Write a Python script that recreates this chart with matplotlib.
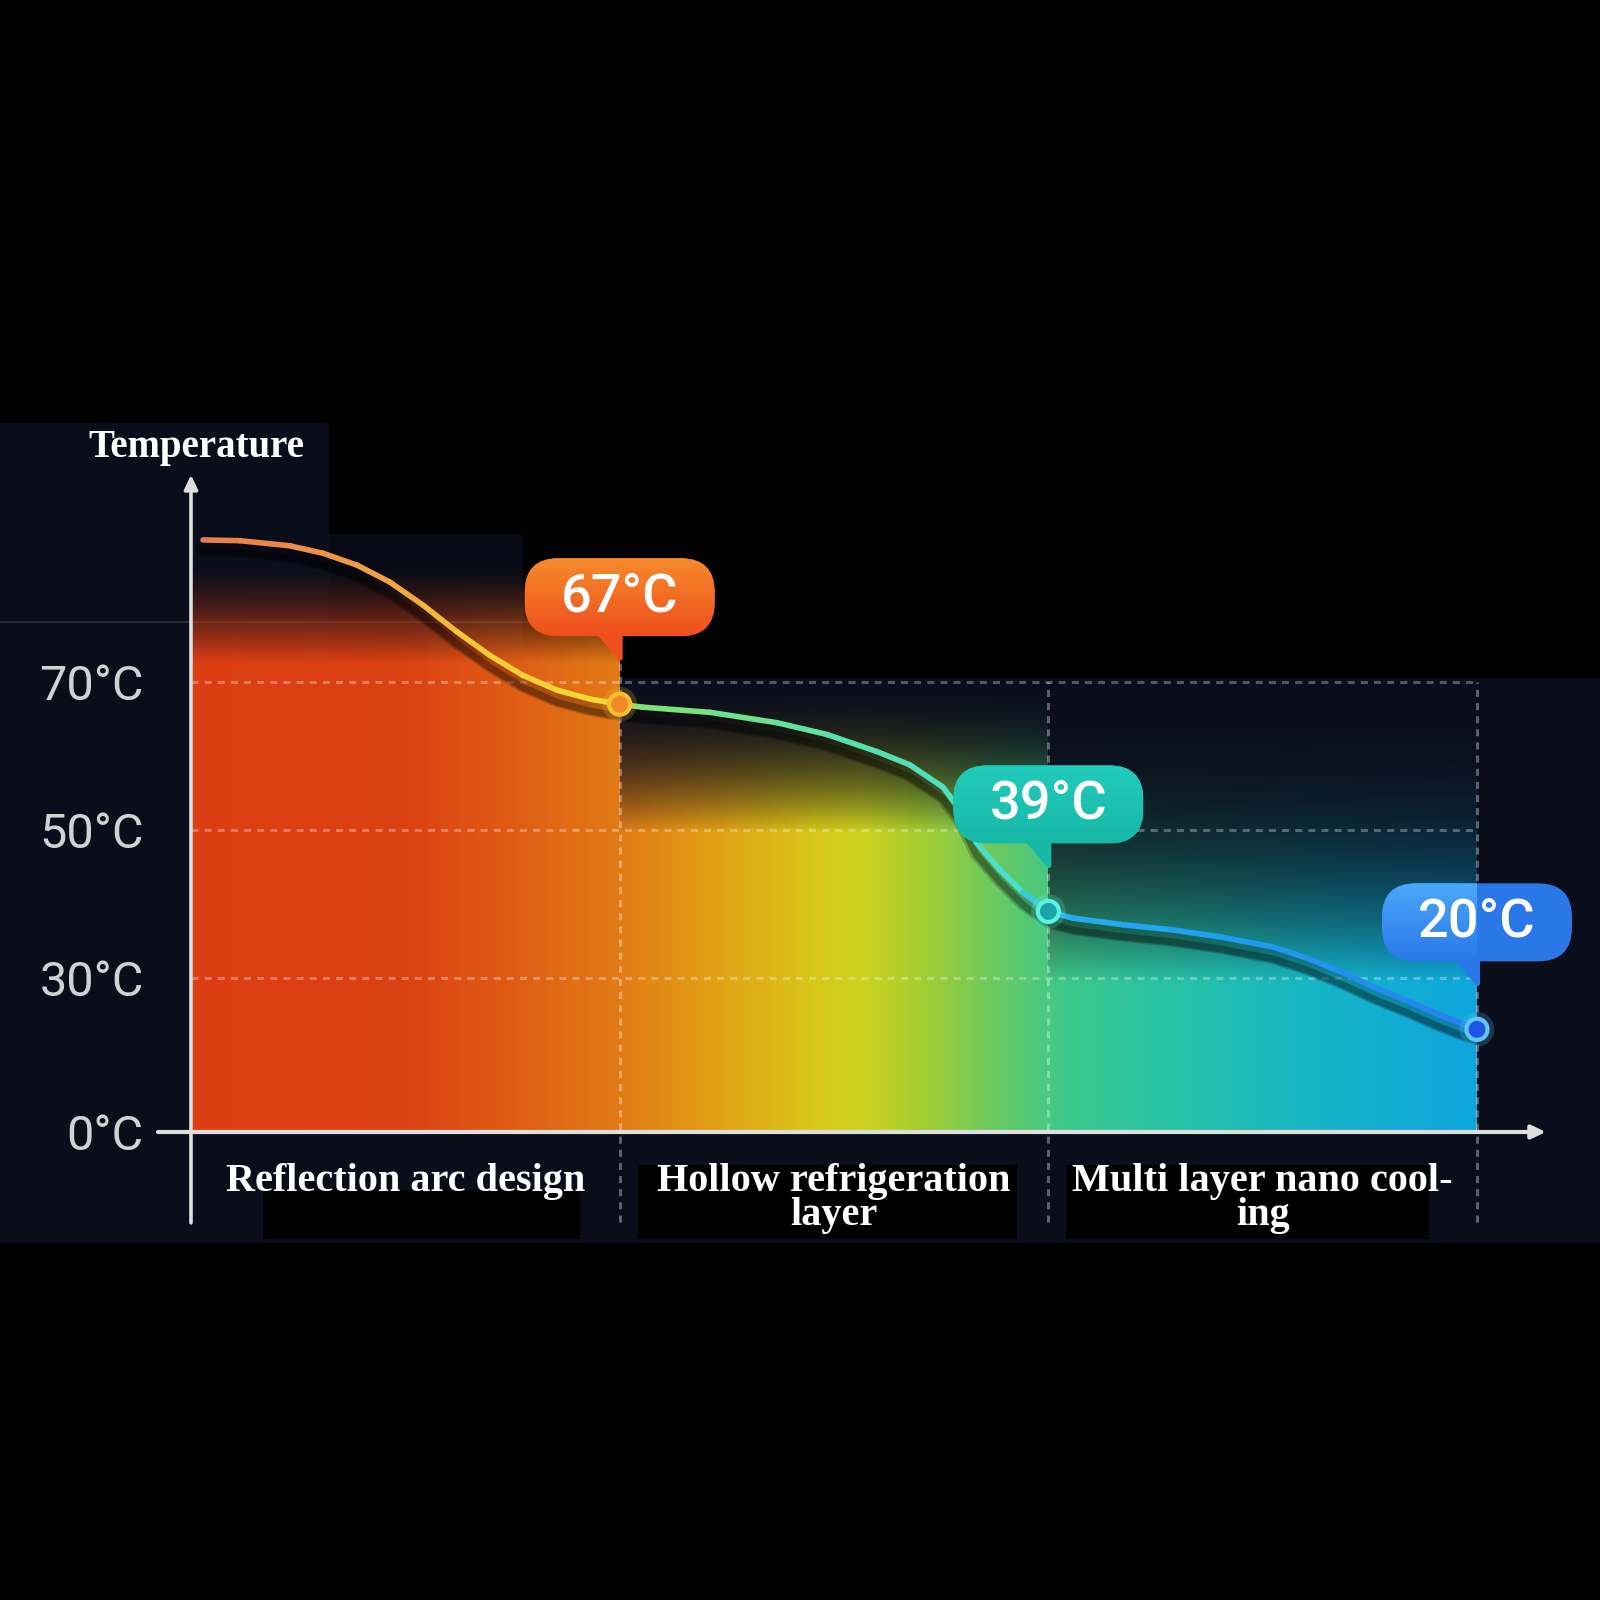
import numpy as np
import matplotlib
matplotlib.use("Agg")
import matplotlib.pyplot as plt
from matplotlib import transforms
from matplotlib.collections import LineCollection
from matplotlib.colors import LinearSegmentedColormap
from matplotlib.patches import FancyBboxPatch, Polygon, Rectangle

# ---- data ----
stages = ["Reflection arc design", "Hollow refrigeration\nlayer", "Multi layer nano cool-\ning"]
stage_pos = [0.5, 1.5, 2.5]

tick_temps = [0, 30, 50, 70]
tick_labels = ["0°C", "30°C", "50°C", "70°C"]

point_x = [1, 2, 3]
point_temps = [67, 39, 20]
point_labels = ["67°C", "39°C", "20°C"]

curve_x = [0.028, 0.114, 0.231, 0.308, 0.387, 0.464, 0.541, 0.620, 0.697, 0.774,
           0.854, 0.931, 1.0,
           1.054, 1.211, 1.367, 1.484, 1.600, 1.677, 1.754, 1.794, 1.833, 1.887,
           1.941, 2.0,
           2.057, 2.174, 2.291, 2.407, 2.524, 2.603, 2.680, 2.757, 2.836, 2.913, 3.0]
curve_t = [89.2, 89.1, 88.4, 87.4, 85.8, 83.5, 80.4, 76.8, 73.6, 70.9,
           68.9, 67.7, 67.0,
           66.6, 65.9, 64.5, 62.9, 60.6, 58.8, 55.8, 52.7, 48.2, 44.6,
           41.5, 39.0,
           38.1, 37.2, 36.5, 35.5, 34.2, 32.7, 30.9, 28.3, 25.6, 22.8, 20.0]

# the temperature axis is not to scale (0-30 gets about as much room as 30-50)
scale_t = [-100, 0, 30, 50, 70, 200]
scale_h = [-513.3, 0, 154, 302, 450, 1412]


def fwd(t):
    return np.interp(t, scale_t, scale_h)


def inv(h):
    return np.interp(h, scale_h, scale_t)


NAVY = "#0a0e1b"
fig = plt.figure(figsize=(16, 16), dpi=100, facecolor="black")

# background panels (pixel coordinates, origin top-left)
bg = fig.add_axes([0, 0, 1, 1], zorder=-5)
bg.set_xlim(0, 1600)
bg.set_ylim(1600, 0)
bg.axis("off")
bg.set_facecolor("black")
for x0, y0, x1, y1, c in [(0, 678, 1600, 1243, NAVY), (0, 423, 329, 678, NAVY),
                          (329, 534, 523, 678, "#080b16"),
                          (263, 1190, 580, 1239, "black"), (638, 1165, 1017, 1239, "black"),
                          (1066, 1165, 1429, 1239, "black")]:
    bg.add_patch(Rectangle((x0, y0), x1 - x0, y1 - y0, color=c, lw=0))
bg.plot([0, 612], [622, 622], color="white", alpha=0.12, lw=1.5)

ax = fig.add_axes([191 / 1600, (1600 - 1132) / 1600, 1286 / 1600, 672 / 1600], zorder=1)
ax.set_facecolor("none")
ax.set_yscale("function", functions=(fwd, inv))

# gradient fill under the curve
fill_cmap = LinearSegmentedColormap.from_list("fill", [
    (0.0, "#dc3e14"), (0.167, "#da4112"), (0.243, "#de5a14"), (0.327, "#e17816"),
    (0.407, "#e1a014"), (0.487, "#d7c819"), (0.523, "#cdd21e"), (0.563, "#aacd2d"),
    (0.643, "#5ac86e"), (0.683, "#3cc88c"), (0.763, "#28c3a5"), (0.883, "#14b4c8"),
    (1.0, "#0fa5dc")])
xe = np.linspace(0, 3, 361)
he = np.linspace(0, 600, 301)
xc = (xe[:-1] + xe[1:]) / 2
hc = (he[:-1] + he[1:]) / 2
X, H = np.meshgrid(xc, hc)
top = np.where(X < 1, 565, 450)
full = np.select([X < 1, X < 2], [470, 300], 150)
frac = np.clip((top - H) / (top - full), 0, 1)
power = np.select([X < 1, X < 2], [1.4, 2.0], 2.6)
rgba = fill_cmap(X / 3)
rgba[..., 3] = frac ** power
ax.pcolormesh(xe, inv(he), rgba, shading="flat", antialiased=False,
              edgecolors="none", zorder=1)

# dashed grid
dash = (0, (2.3, 2.0))
for t in [30, 50, 70]:
    ax.plot([0, 3], [t, t], color="white", alpha=0.3, lw=2.2, ls=dash, zorder=2)
ax.plot([1, 1], [-17.5, 74.5], color="white", alpha=0.35, lw=2.2, ls=dash, zorder=2, clip_on=False)
for xv in [2, 3]:
    ax.plot([xv, xv], [-17.5, 70], color="white", alpha=0.35, lw=2.2, ls=dash, zorder=2, clip_on=False)

# axes arrows
ax.annotate("", xy=(0, 98.0), xytext=(0, -17.7),
            arrowprops=dict(arrowstyle="-|>,head_length=0.85,head_width=0.4",
                            color="#dedede", lw=2.6, shrinkA=0, shrinkB=0),
            annotation_clip=False, zorder=4)
ax.annotate("", xy=(3.161, 0), xytext=(-0.077, 0),
            arrowprops=dict(arrowstyle="-|>,head_length=0.85,head_width=0.4",
                            color="#dedede", lw=3.0, shrinkA=0, shrinkB=0),
            annotation_clip=False, zorder=4)

# curve: soft shadow below, then the coloured line
curve_cmap = LinearSegmentedColormap.from_list("curve", [
    (0.0, "#e8784a"), (0.15, "#f0a040"), (0.22, "#f5c838"), (0.333, "#f0dc30"),
    (0.336, "#86e46e"), (0.5, "#5ae0a8"), (0.64, "#48e0d0"), (0.68, "#22b0f0"),
    (0.85, "#1e98f0"), (1.0, "#2a7ef0")])
for off, a, w in [(0.10, 0.22, 10), (0.12, 0.3, 5)]:
    shadow_tr = ax.transData + transforms.ScaledTranslation(0, -off, fig.dpi_scale_trans)
    ax.plot(curve_x, curve_t, color="black", alpha=a, lw=w, transform=shadow_tr,
            solid_capstyle="round", solid_joinstyle="round", zorder=3)
pts = np.column_stack([curve_x, curve_t])
segs = np.stack([pts[:-1], pts[1:]], axis=1)
seg_cols = curve_cmap((np.array(curve_x[:-1]) + np.array(curve_x[1:])) / 6)
line = LineCollection(segs, colors=seg_cols, linewidths=4.0, capstyle="round", zorder=5)
ax.add_collection(line)

# markers
faces = ["#f08a28", "#18a4a8", "#1e55e6"]
edges = ["#f5c030", "#60f2e0", "#5ec8ff"]
ax.scatter(point_x, point_temps, s=620, c=edges, alpha=0.22, linewidths=0, zorder=6, clip_on=False)
ax.scatter(point_x, point_temps, s=230, c=faces, edgecolors=edges, linewidths=3, zorder=7, clip_on=False)

# badges
badge_top = ["#f68a2c", "#22ccba", "#4aa8f8"]
badge_bot = ["#ef4f1c", "#18b8a8", "#2a78e8"]
grad = np.linspace(0, 1, 64)[:, None]
for xv, tv, lab, c0, c1 in zip(point_x, point_temps, point_labels, badge_top, badge_bot):
    tr = fig.dpi_scale_trans + transforms.ScaledTranslation(xv, tv, ax.transData)
    cy = 1.07
    box = FancyBboxPatch((-0.95, cy - 0.39), 1.9, 0.78,
                         boxstyle="round,pad=0,rounding_size=0.34",
                         transform=tr, fc=c1, ec="none", zorder=8, clip_on=False)
    ax.add_patch(box)
    cm = LinearSegmentedColormap.from_list("b", [c1, c0])
    im = ax.imshow(grad, cmap=cm, extent=(-0.95, 0.95, cy - 0.39, cy + 0.39),
                   origin="lower", transform=tr, aspect="auto", zorder=8.5,
                   interpolation="bilinear")
    im.set_clip_path(box)
    b = cy - 0.38
    ax.add_patch(Polygon([(-0.22, b), (0.03, b), (0.03, b - 0.24), (0.0, b - 0.26)],
                         closed=True, transform=tr, fc=c1, ec="none", zorder=8, clip_on=False))
    ax.text(0, cy, lab, transform=tr, ha="center", va="center", color="white",
            fontsize=39, family=["Roboto", "DejaVu Sans"], fontweight="medium", zorder=9)

# title
ax.text(0.012, 1.019, "Temperature", transform=ax.get_xaxis_transform(), ha="center",
        va="center", color="white", fontsize=28, family="Liberation Serif",
        fontweight="bold", clip_on=False)

# ticks
ax.set_xlim(0, 3)
ax.set_ylim(0, 100)
ax.set_yticks(tick_temps, tick_labels)
ax.set_xticks(stage_pos, stages)
ax.tick_params(axis="y", length=0, pad=34, labelcolor="#d2d2d2", labelsize=35)
ax.tick_params(axis="x", length=0, pad=22, labelcolor="white", labelsize=29)
for lb in ax.get_yticklabels():
    lb.set_fontfamily(["Roboto", "DejaVu Sans"])
    lb.set_fontweight("normal")
for lb in ax.get_xticklabels():
    lb.set_fontfamily("Liberation Serif")
    lb.set_fontweight("bold")
    lb.set_linespacing(0.92)
for sp in ax.spines.values():
    sp.set_visible(False)

fig.savefig("out.png", dpi=100, facecolor="black")
